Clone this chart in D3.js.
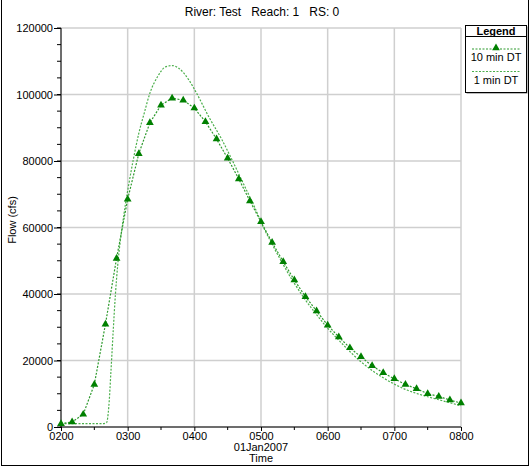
<!DOCTYPE html>
<html>
<head>
<meta charset="utf-8">
<script src="https://cdn.jsdelivr.net/npm/d3@7"></script>
<style>
  body { margin: 0; background: #fff; }
  svg { display: block; font-family: "Liberation Sans", Arial, sans-serif; }
</style>
</head>
<body>
<svg id="chart" width="531" height="468"></svg>
<script>
// minutes after 02:00 on 01Jan2007
const tenMinTimes = d3.range(0, 361, 10);
const tenMinFlow = [1000, 1500, 3800, 12800, 30900, 50700, 68500, 82200, 91500, 96800,
  98900, 98300, 95900, 91800, 86600, 80800, 74600, 68000, 61700, 55500,
  49700, 44200, 39200, 34900, 30600, 27100, 23800, 21100, 18400, 16300,
  14500, 12800, 11500, 10000, 9200, 8100, 7200];

const oneMinTimes = [0, 20, 38, 41, 43, 45, 47, 49, 51, 53, 55, 58, 61, 65, 70, 75, 80, 87, 94,
  100, 106, 115, 122, 133, 145, 154, 164, 174, 182, 190, 200, 210, 220, 230, 240,
  250, 260, 270, 280, 290, 300, 310, 320, 330, 340, 350, 360];
const oneMinFlow = [1000, 1000, 1000, 1300, 6000, 17000, 29000, 40000, 48500, 55000, 60000, 67000,
  73000, 80300, 88300, 94500, 100400, 105400, 108300, 108700, 107900, 104400, 100400,
  93300, 86300, 80300, 73300, 66300, 60200, 55000, 48800, 43200, 38200, 33800, 29700,
  26100, 22700, 19600, 17000, 14800, 12900, 11300, 10100, 9100, 8200, 7300, 6400];

const yTicks = [0, 20000, 40000, 60000, 80000, 100000, 120000];
const seriesNames = ["10 min DT", "1 min DT"];

const base = new Date(2007, 0, 1, 2, 0);
const toDate = (m) => new Date(base.getTime() + m * 60000);

const svg = d3.select("#chart");
const margin = { left: 61, right: 70, top: 28, bottom: 41 };
const width = 531, height = 468;

const x = d3.scaleTime()
  .domain([toDate(0), toDate(360)])
  .range([margin.left, width - margin.right]);
const y = d3.scaleLinear()
  .domain([0, 120000])
  .range([height - margin.bottom, margin.top]);

// outer frame
svg.append("rect")
  .attr("x", 1.5).attr("y", -2)
  .attr("width", 527).attr("height", 468.5 - 1)
  .attr("fill", "none").attr("stroke", "#000");

// grid
const hourTicks = d3.range(0, 361, 60).map(toDate);
svg.append("g").selectAll("line").data(hourTicks).join("line")
  .attr("x1", (d) => x(d)).attr("x2", (d) => x(d))
  .attr("y1", y(120000)).attr("y2", y(0))
  .attr("stroke", "#cfcfcf").attr("stroke-width", 1.5);
svg.append("g").selectAll("line").data(yTicks).join("line")
  .attr("x1", x.range()[0]).attr("x2", x.range()[1])
  .attr("y1", (d) => y(d)).attr("y2", (d) => y(d))
  .attr("stroke", "#cfcfcf").attr("stroke-width", 1.5);

// y axis
const yMinor = d3.range(0, 120001, 5000);
const yAxis = svg.append("g").attr("transform", `translate(${margin.left},0)`);
yAxis.selectAll("line.minor").data(yMinor).join("line")
  .attr("class", "minor")
  .attr("x1", -4).attr("x2", 0)
  .attr("y1", (d) => y(d)).attr("y2", (d) => y(d))
  .attr("stroke", "#000");
yAxis.call(d3.axisLeft(y).tickValues(yTicks).tickSize(7).tickPadding(1).tickFormat(d3.format("d")))
  .call((g) => g.select(".domain").attr("d", `M0,${y(0)}V${y(120000)}`))
  .selectAll("text").attr("font-size", 11).attr("fill", "#000")
  .attr("font-family", "Liberation Sans, Arial, sans-serif");

// x axis
const xMinor = d3.range(30, 360, 60).map(toDate);
const xAxis = svg.append("g").attr("transform", `translate(0,${y(0)})`);
xAxis.selectAll("line.minor").data(xMinor).join("line")
  .attr("class", "minor")
  .attr("x1", (d) => x(d)).attr("x2", (d) => x(d))
  .attr("y1", 0).attr("y2", 3)
  .attr("stroke", "#000");
xAxis.call(d3.axisBottom(x).tickValues(hourTicks).tickSize(4).tickPadding(1).tickFormat(d3.timeFormat("%H%M")))
  .call((g) => g.select(".domain").attr("d", `M${x.range()[0]},0H${x.range()[1]}`))
  .selectAll("text").attr("font-size", 11).attr("fill", "#000")
  .attr("font-family", "Liberation Sans, Arial, sans-serif");

svg.append("text")
  .attr("x", 261).attr("y", 451)
  .attr("text-anchor", "middle").attr("font-size", 11)
  .text("01Jan2007");
svg.append("text")
  .attr("x", 261).attr("y", 462)
  .attr("text-anchor", "middle").attr("font-size", 11)
  .text("Time");

svg.append("text")
  .attr("transform", "translate(16,220) rotate(-90)")
  .attr("text-anchor", "middle").attr("font-size", 11)
  .text("Flow (cfs)");

svg.append("text")
  .attr("x", 262).attr("y", 16)
  .attr("text-anchor", "middle").attr("font-size", 12)
  .attr("xml:space", "preserve")
  .text("River: Test   Reach: 1   RS: 0");

// series
const oneMin = oneMinTimes.map((t, i) => ({ t: toDate(t), v: oneMinFlow[i] }));
const tenMin = tenMinTimes.map((t, i) => ({ t: toDate(t), v: tenMinFlow[i] }));

const lineSmooth = d3.line().x((d) => x(d.t)).y((d) => y(d.v)).curve(d3.curveMonotoneX);
const lineStraight = d3.line().x((d) => x(d.t)).y((d) => y(d.v));

svg.append("path").datum(oneMin)
  .attr("d", lineSmooth)
  .attr("fill", "none").attr("stroke", "#4caf4c")
  .attr("stroke-width", 1.2).attr("stroke-dasharray", "2,1.5");

svg.append("path").datum(tenMin)
  .attr("d", lineStraight)
  .attr("fill", "none").attr("stroke", "#2e9a2e")
  .attr("stroke-width", 1.2).attr("stroke-dasharray", "2,1.5");

const tri = d3.symbol().type(d3.symbolTriangle).size(26);
svg.append("g").selectAll("path").data(tenMin).join("path")
  .attr("transform", (d) => `translate(${x(d.t)},${y(d.v)})`)
  .attr("d", tri)
  .attr("fill", "#008000");

// legend
const lg = svg.append("g").attr("transform", "translate(465,25)");
lg.append("rect").attr("x", 1.5).attr("y", 1.5).attr("width", 61).attr("height", 67)
  .attr("fill", "#777");
lg.append("rect").attr("x", 0.5).attr("y", 0.5).attr("width", 61).attr("height", 67)
  .attr("fill", "#fff").attr("stroke", "#000");
lg.append("line").attr("x1", 0.5).attr("x2", 61.5).attr("y1", 11.5).attr("y2", 11.5)
  .attr("stroke", "#000");
lg.append("text").attr("x", 31).attr("y", 10).attr("text-anchor", "middle")
  .attr("font-size", 11).attr("font-weight", "bold").text("Legend");

seriesNames.forEach((name, i) => {
  const yy = 24 + i * 22.5;
  lg.append("line").attr("x1", 7).attr("x2", 55).attr("y1", yy).attr("y2", yy)
    .attr("stroke", i === 0 ? "#2e9a2e" : "#4caf4c")
    .attr("stroke-width", 1.2).attr("stroke-dasharray", "2,1.5");
  if (i === 0) {
    lg.append("path").attr("transform", `translate(31,${yy - 1})`)
      .attr("d", tri).attr("fill", "#008000");
  }
  lg.append("text").attr("x", 31).attr("y", yy + 12).attr("text-anchor", "middle")
    .attr("font-size", 11).text(name);
});
</script>
</body>
</html>
